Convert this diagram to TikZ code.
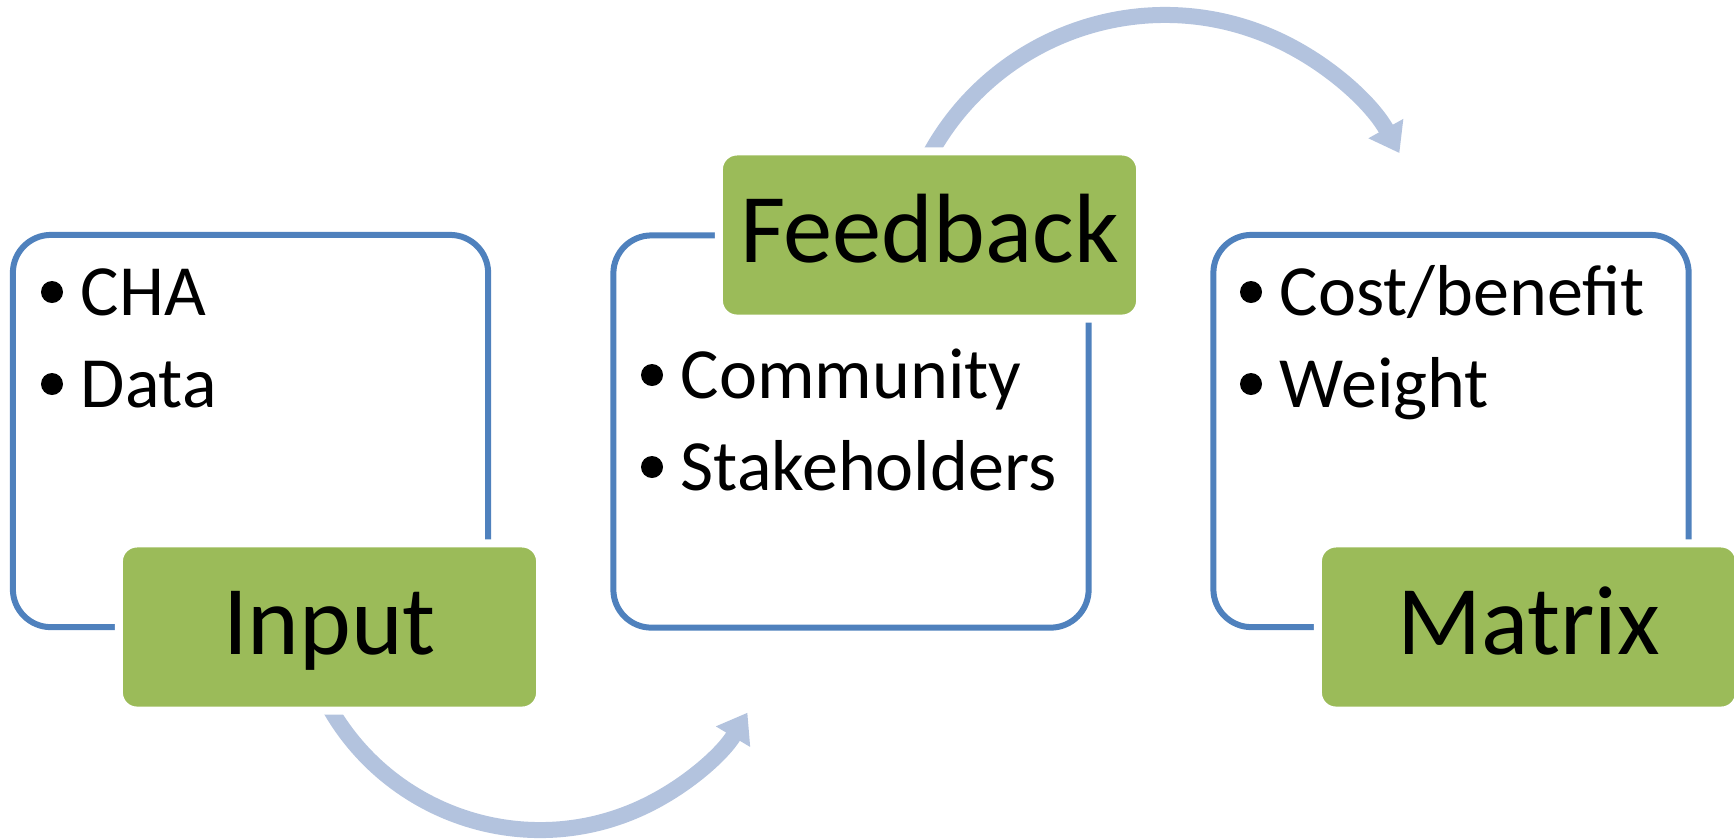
\documentclass[tikz,border=0pt]{standalone}
\usepackage{fontspec}
\setmainfont{Carlito}
\usetikzlibrary{arrows.meta}
\definecolor{frameblue}{HTML}{4F81BD}
\definecolor{titlegreen}{HTML}{9BBB59}
\definecolor{arrowblue}{HTML}{B3C3DE}
\begin{document}
\begin{tikzpicture}[x=0.01cm,y=-0.01cm,
  framebox/.style={draw=frameblue, line width=0.06cm, rounded corners=0.38cm,
    minimum width=4.75cm, minimum height=3.92cm, inner sep=0pt},
  title/.style={fill=titlegreen, draw=white, line width=0.08cm, rounded corners=0.18cm,
    minimum width=4.21cm, minimum height=1.67cm, inner sep=0pt,
    text height=0.55cm, text depth=0cm, font=\fontsize{28}{32}\selectfont},
  item/.style={anchor=base west, inner sep=0pt, font=\fontsize{20.5}{24}\selectfont},
  flow/.style={draw=arrowblue, line width=0.16cm,
    -{Triangle[length=0.28cm,width=0.38cm]}}]
\useasboundingbox (0,0) rectangle (1734,838);

% curved arrows (drawn first, partly hidden by the title boxes)
\coordinate (c1) at (540,588);
\coordinate (c2) at (1165,283);
\draw[flow] ([shift={(155:242)}]c1) arc[start angle=155, end angle=31, radius=242];
\draw[flow] ([shift={(-155:268)}]c2) arc[start angle=-155, end angle=-29, radius=268];

% frames
\node[framebox] (f1) at (250.5,431) {};
\node[framebox] (f2) at (851,431.5) {};
\node[framebox] (f3) at (1451,431) {};

% titles
\node[title] (input) at (329.5,627) {Input};
\node[title] (feedback) at (929.5,235) {Feedback};
\node[title] (matrix) at (1528.5,627) {Matrix};

% bullet items
\node[item] (cha) at (80,315) {CHA};
\node[item] (data) at (80,407) {Data};
\node[item] (comm) at (680,398) {Community};
\node[item] (stake) at (680,490) {Stakeholders};
\node[item] (cost) at (1279,315) {Cost/benefit};
\node[item] (weight) at (1279,407) {Weight};
\foreach \n in {cha,data,comm,stake,cost,weight}
  \fill ([shift={(-28,-23)}]\n.base west) circle[radius=11];
\end{tikzpicture}
\end{document}
